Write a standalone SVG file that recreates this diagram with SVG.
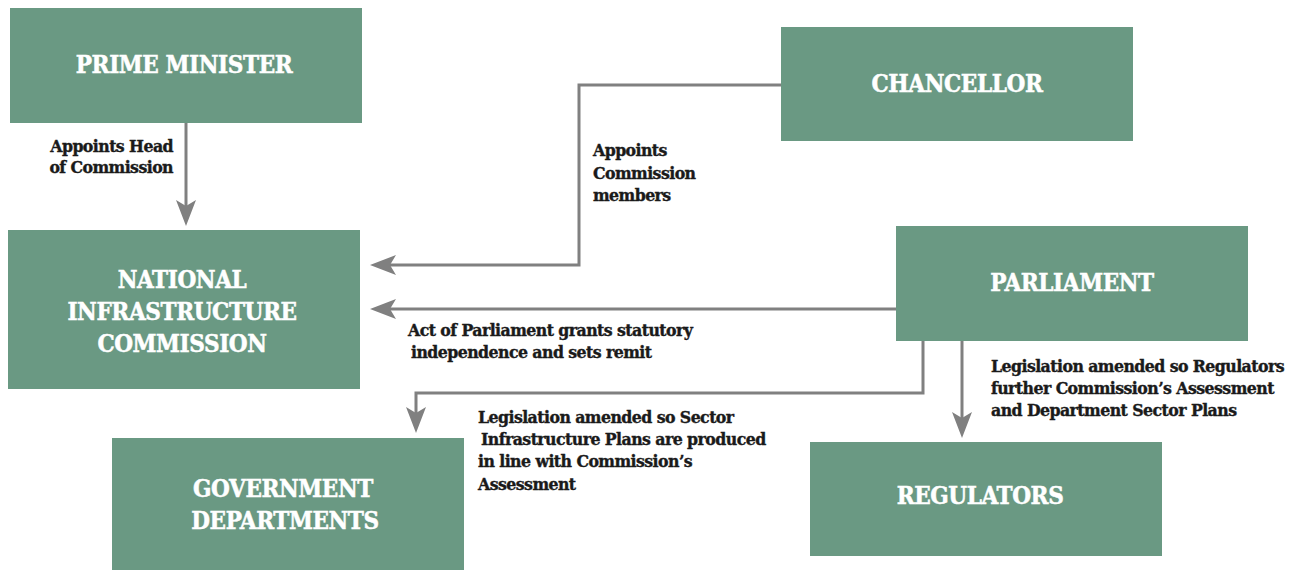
<svg xmlns="http://www.w3.org/2000/svg" width="1308" height="570" viewBox="0 0 1308 570">
  <style>
    .box { fill: #6a9983; }
    .title { fill: #ffffff; stroke: #ffffff; stroke-width: 0.5px; font-family: "DejaVu Serif Condensed", "DejaVu Serif", serif; font-weight: bold; font-size: 24px; text-anchor: middle; letter-spacing: -0.4px; }
    .label { fill: #1a1a1a; stroke: #1a1a1a; stroke-width: 0.4px; font-family: "DejaVu Serif Condensed", "DejaVu Serif", serif; font-weight: bold; font-size: 17.5px; letter-spacing: -0.55px; }
    .wire { fill: none; stroke: #808080; stroke-width: 3; marker-end: url(#head); }
  </style>
  <defs>
    <marker id="head" markerUnits="userSpaceOnUse" markerWidth="26" markerHeight="20" viewBox="0 0 26 20" refX="6" refY="10" orient="auto">
      <path d="M0,0 L26,10 L0,20 L6,10 Z" fill="#808080"/>
    </marker>
  </defs>

  <g id="connectors">
    <path class="wire" d="M186,123 V206"/>
    <path class="wire" d="M781,85 H579 V265 H390"/>
    <path class="wire" d="M896,309 H390"/>
    <path class="wire" d="M923,341 V393 H416 V413"/>
    <path class="wire" d="M962,341 V418"/>
  </g>

  <g id="prime-minister">
    <rect class="box" x="10" y="8" width="352" height="115"/>
    <text class="title" x="184" y="73">PRIME MINISTER</text>
  </g>

  <g id="chancellor">
    <rect class="box" x="781" y="27" width="352" height="114"/>
    <text class="title" x="957" y="92">CHANCELLOR</text>
  </g>

  <g id="commission">
    <rect class="box" x="8" y="230" width="352" height="159"/>
    <text class="title" x="182" y="288">NATIONAL</text>
    <text class="title" x="182" y="320">INFRASTRUCTURE</text>
    <text class="title" x="182" y="352">COMMISSION</text>
  </g>

  <g id="parliament">
    <rect class="box" x="896" y="226" width="352" height="115"/>
    <text class="title" x="1072" y="291">PARLIAMENT</text>
  </g>

  <g id="government-departments">
    <rect class="box" x="112" y="438" width="352" height="132"/>
    <text class="title" x="283" y="497">GOVERNMENT</text>
    <text class="title" x="285" y="529">DEPARTMENTS</text>
  </g>

  <g id="regulators">
    <rect class="box" x="810" y="442" width="352" height="114"/>
    <text class="title" x="980" y="504">REGULATORS</text>
  </g>

  <g id="labels">
    <text class="label" text-anchor="end" x="173" y="152">Appoints Head</text>
    <text class="label" text-anchor="end" x="173" y="173">of Commission</text>

    <text class="label" x="593" y="156">Appoints</text>
    <text class="label" x="593" y="179">Commission</text>
    <text class="label" x="593" y="201">members</text>

    <text class="label" x="408" y="336">Act of Parliament grants statutory</text>
    <text class="label" x="411" y="358">independence and sets remit</text>

    <text class="label" x="991" y="372">Legislation amended so Regulators</text>
    <text class="label" x="991" y="394">further Commission’s Assessment</text>
    <text class="label" x="991" y="416">and Department Sector Plans</text>

    <text class="label" x="478" y="423">Legislation amended so Sector</text>
    <text class="label" x="481" y="445">Infrastructure Plans are produced</text>
    <text class="label" x="478" y="467">in line with Commission’s</text>
    <text class="label" x="478" y="490">Assessment</text>
  </g>
</svg>
